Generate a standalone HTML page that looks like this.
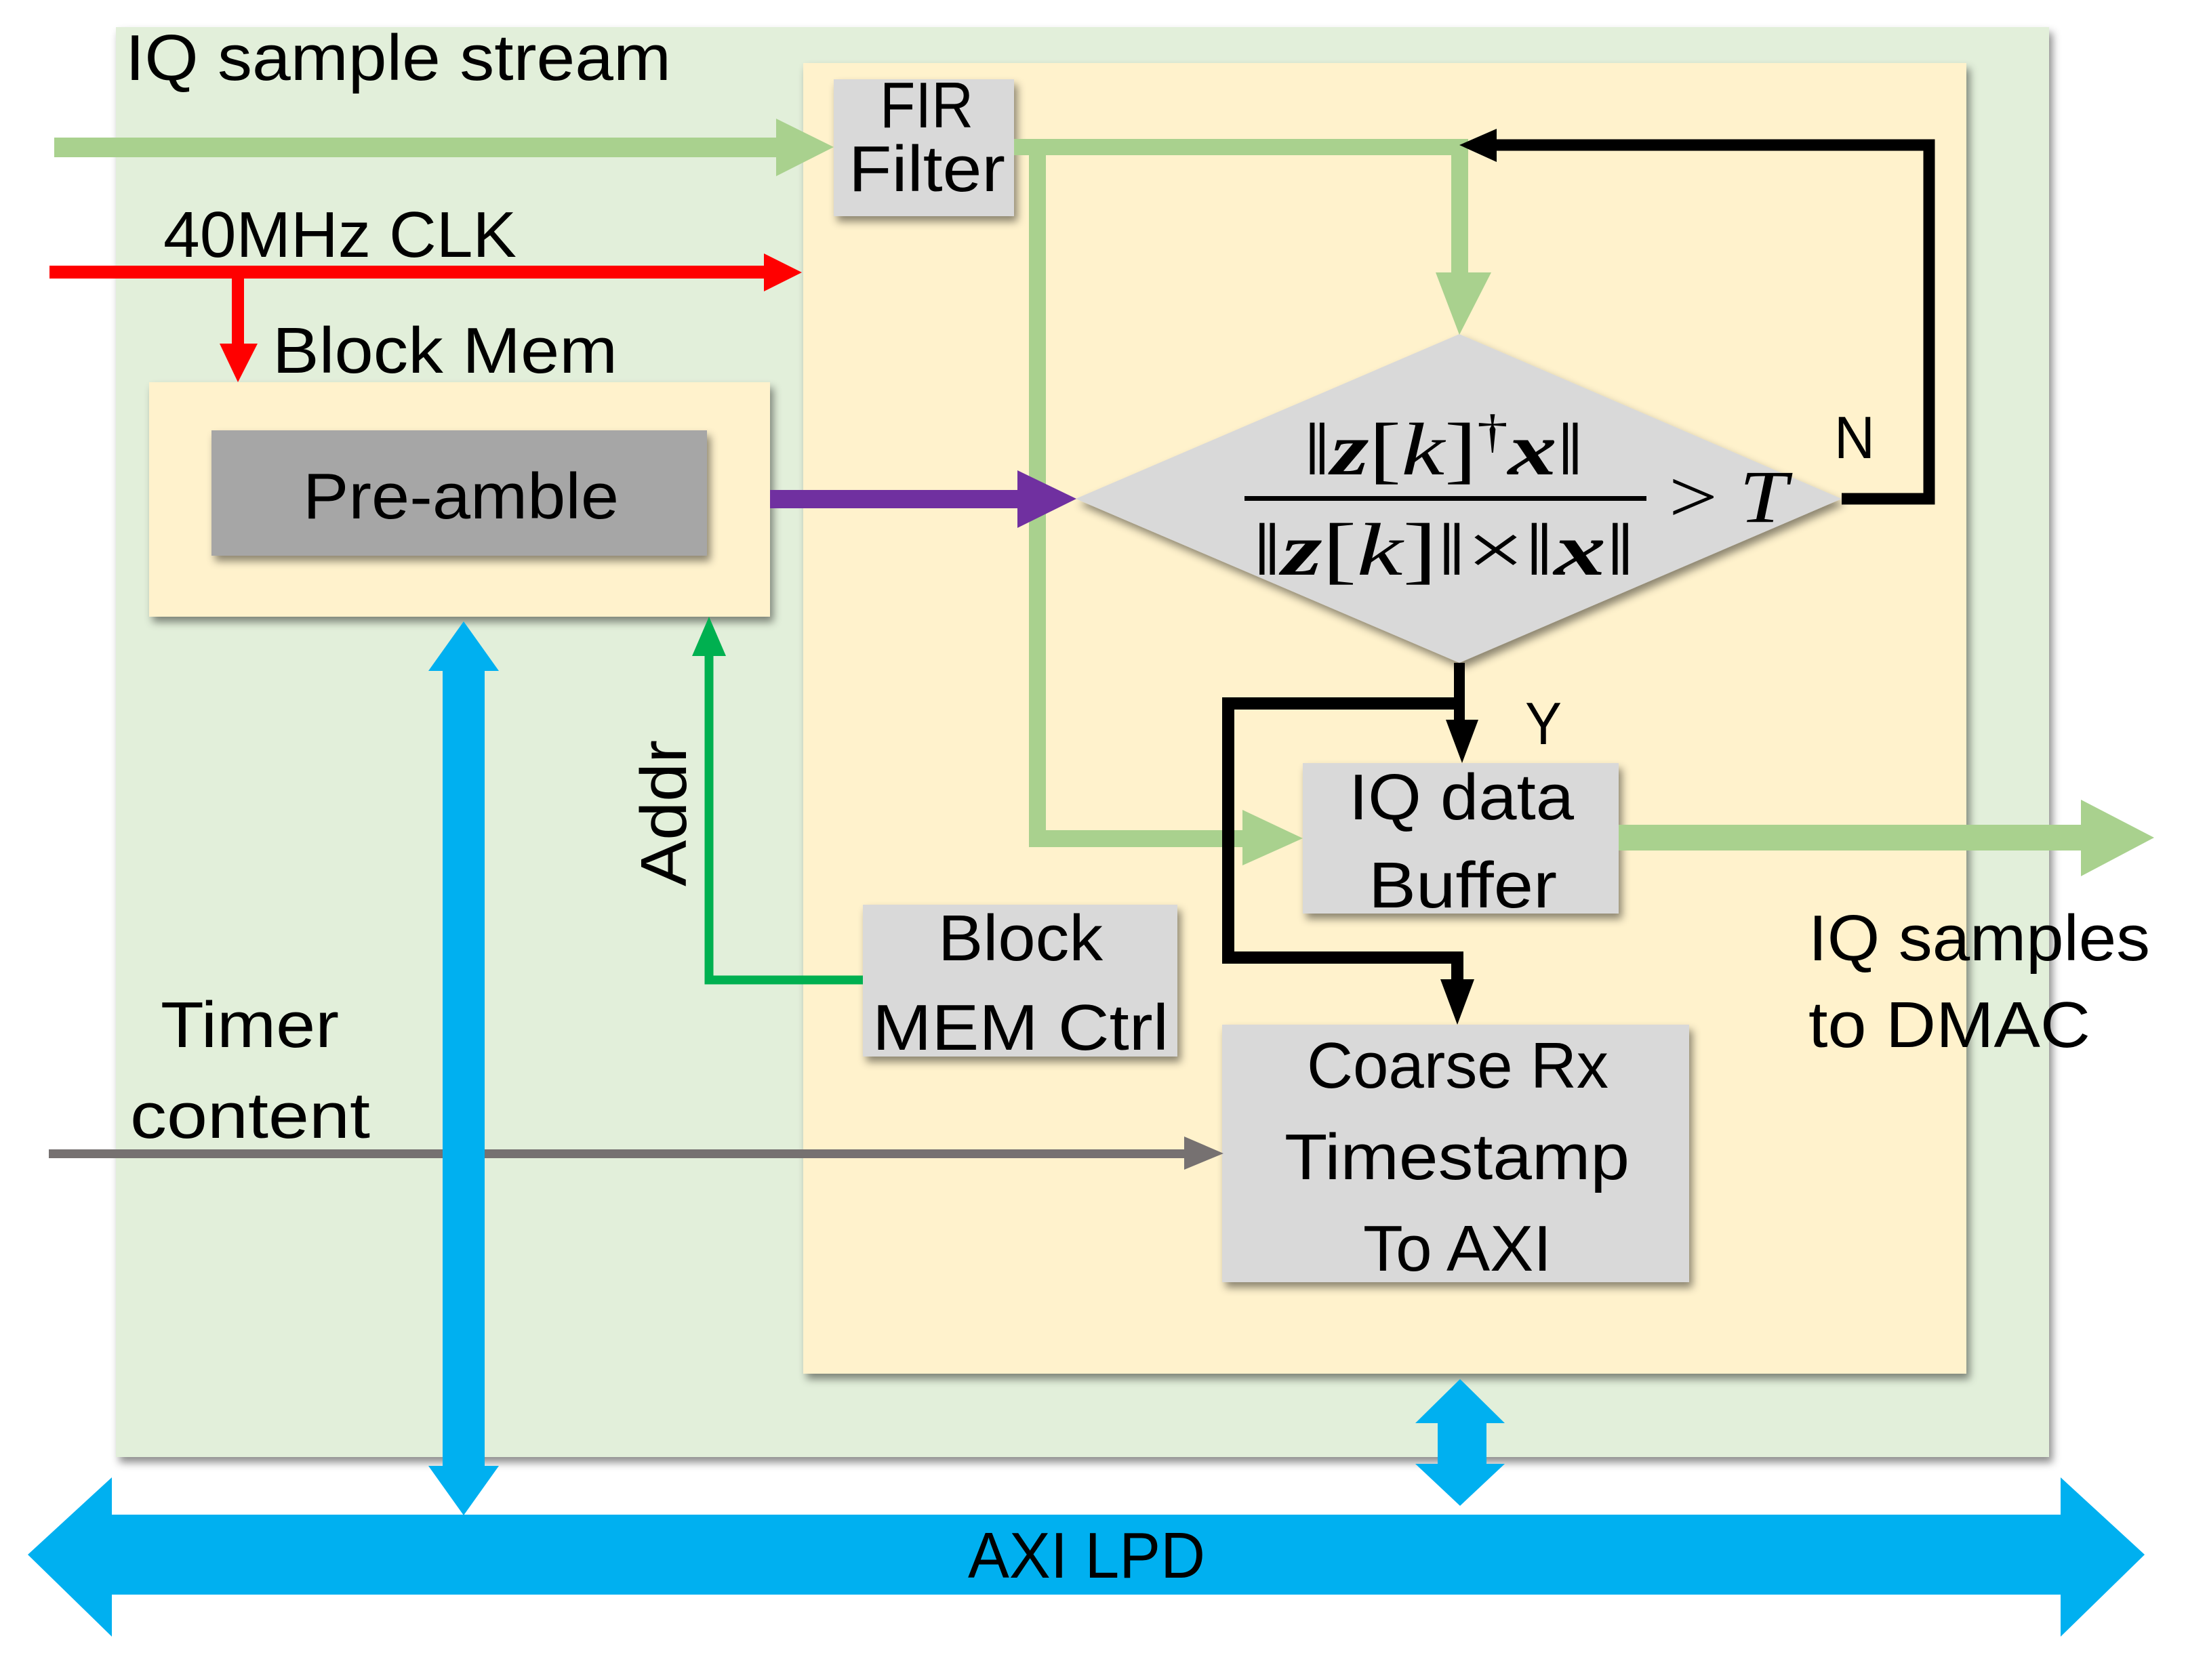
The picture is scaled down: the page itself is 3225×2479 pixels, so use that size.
<!DOCTYPE html>
<html><head><meta charset="utf-8"><style>html,body{margin:0;padding:0;background:#fff}svg{display:block}</style></head>
<body>
<svg width="3225" height="2479" viewBox="0 0 3225 2479" xmlns="http://www.w3.org/2000/svg" font-family="'Liberation Sans', sans-serif">
<defs>
<filter id="sh" x="-10%" y="-10%" width="130%" height="130%"><feDropShadow dx="5" dy="8" stdDeviation="6" flood-color="#000" flood-opacity="0.45"/></filter>
</defs>
<!-- outer green -->
<rect x="171" y="40" width="2852" height="2110" fill="#e2efda" filter="url(#sh)"/>
<!-- yellow -->
<rect x="1185" y="93" width="1716" height="1934" fill="#fff2cc" filter="url(#sh)"/>
<!-- block mem box -->
<rect x="220" y="564" width="916" height="346" fill="#fff2cc" filter="url(#sh)"/>
<rect x="312" y="635" width="731" height="185" fill="#a6a6a6" filter="url(#sh)"/>
<!-- boxes -->
<rect x="1230" y="117" width="266" height="202" fill="#d9d9d9" filter="url(#sh)"/>
<rect x="1922" y="1126" width="466" height="222" fill="#d9d9d9" filter="url(#sh)"/>
<rect x="1273" y="1335" width="464" height="224" fill="#d9d9d9" filter="url(#sh)"/>
<rect x="1803" y="1512" width="689" height="380" fill="#d9d9d9" filter="url(#sh)"/>
<!-- diamond -->
<polygon points="2153,493 2717,736 2153,978 1587,736" fill="#d9d9d9" filter="url(#sh)"/>

<!-- green input arrow -->
<rect x="80" y="203" width="1070" height="29" fill="#a9d18e"/>
<polygon points="1145,175 1230,217 1145,260" fill="#a9d18e"/>
<!-- green from FIR -->
<rect x="1496" y="205" width="670" height="24" fill="#a9d18e"/>
<rect x="1518" y="205" width="25" height="1045" fill="#a9d18e"/>
<rect x="2141" y="205" width="25" height="200" fill="#a9d18e"/>
<polygon points="2118,402 2200,402 2153,494" fill="#a9d18e"/>
<rect x="1518" y="1225" width="320" height="25" fill="#a9d18e"/>
<polygon points="1833,1195 1922,1237 1833,1277" fill="#a9d18e"/>
<!-- output green -->
<rect x="2388" y="1217" width="700" height="38" fill="#a9d18e"/>
<polygon points="3070,1180 3178,1236 3070,1293" fill="#a9d18e"/>

<!-- red -->
<rect x="73" y="392" width="1060" height="19" fill="#ff0000"/>
<polygon points="1127,374 1183,402 1127,430" fill="#ff0000"/>
<rect x="342" y="402" width="18" height="110" fill="#ff0000"/>
<polygon points="324,507 380,507 351,564" fill="#ff0000"/>

<!-- purple -->
<rect x="1136" y="723" width="370" height="27" fill="#7030a0"/>
<polygon points="1501,694 1588,736 1501,779" fill="#7030a0"/>

<!-- black N loop -->
<polyline points="2717,736 2846,736 2846,214 2200,214" fill="none" stroke="#000" stroke-width="17"/>
<polygon points="2208,190 2208,239 2153,214" fill="#000"/>
<!-- Y -->
<rect x="2145" y="978" width="16" height="90" fill="#000"/>
<polygon points="2133,1062 2181,1062 2157,1126" fill="#000"/>
<polyline points="2153,1038 1812,1038 1812,1413 2150,1413 2150,1450" fill="none" stroke="#000" stroke-width="18"/>
<polygon points="2125,1445 2175,1445 2150,1512" fill="#000"/>

<!-- green addr -->
<polyline points="1273,1446 1046,1446 1046,960" fill="none" stroke="#00b050" stroke-width="13"/>
<polygon points="1021,968 1071,968 1046,910" fill="#00b050"/>

<!-- gray timer -->
<rect x="72" y="1696" width="1680" height="13" fill="#767171"/>
<polygon points="1747,1677 1805,1702 1747,1726" fill="#767171"/>

<!-- blue vertical double arrow -->
<rect x="653" y="985" width="62" height="1185" fill="#00b0f0"/>
<polygon points="632,990 736,990 684,917" fill="#00b0f0"/>
<polygon points="632,2163 736,2163 684,2236" fill="#00b0f0"/>
<!-- small blue -->
<rect x="2121" y="2090" width="72" height="80" fill="#00b0f0"/>
<polygon points="2088,2100 2220,2100 2154,2035" fill="#00b0f0"/>
<polygon points="2088,2160 2220,2160 2154,2222" fill="#00b0f0"/>
<!-- AXI LPD -->
<polygon points="41,2294 165,2180 165,2235 3040,2235 3040,2180 3164,2294 3040,2415 3040,2353 165,2353 165,2415" fill="#00b0f0"/>

<!-- texts -->
<g fill="#000" font-size="96">
<text x="185" y="118" textLength="805" lengthAdjust="spacingAndGlyphs">IQ sample stream</text>
<text x="241" y="379" textLength="521" lengthAdjust="spacingAndGlyphs">40MHz CLK</text>
<text x="402" y="550" textLength="509" lengthAdjust="spacingAndGlyphs">Block Mem</text>
<text x="447" y="765" textLength="466" lengthAdjust="spacingAndGlyphs">Pre-amble</text>
<text x="1298" y="188" textLength="138" lengthAdjust="spacingAndGlyphs">FIR</text>
<text x="1252" y="282" textLength="231" lengthAdjust="spacingAndGlyphs">Filter</text>
<text x="1990" y="1209" textLength="332" lengthAdjust="spacingAndGlyphs">IQ data</text>
<text x="2019" y="1339" textLength="278" lengthAdjust="spacingAndGlyphs">Buffer</text>
<text x="1384" y="1417" textLength="243" lengthAdjust="spacingAndGlyphs">Block</text>
<text x="1287" y="1549" textLength="437" lengthAdjust="spacingAndGlyphs">MEM Ctrl</text>
<text x="1928" y="1605" textLength="445" lengthAdjust="spacingAndGlyphs">Coarse Rx</text>
<text x="1895" y="1740" textLength="509" lengthAdjust="spacingAndGlyphs">Timestamp</text>
<text x="2011" y="1875" textLength="278" lengthAdjust="spacingAndGlyphs">To AXI</text>
<text x="237" y="1545" textLength="263" lengthAdjust="spacingAndGlyphs">Timer</text>
<text x="192" y="1679" textLength="354" lengthAdjust="spacingAndGlyphs">content</text>
<text x="2668" y="1417" textLength="504" lengthAdjust="spacingAndGlyphs">IQ samples</text>
<text x="2668" y="1545" textLength="416" lengthAdjust="spacingAndGlyphs">to DMAC</text>
<text x="1428" y="2328" textLength="350" lengthAdjust="spacingAndGlyphs">AXI LPD</text>
<text x="2706" y="676" font-size="88" textLength="60" lengthAdjust="spacingAndGlyphs">N</text>
<text x="2250" y="1098" font-size="88" textLength="54" lengthAdjust="spacingAndGlyphs">Y</text>
<text transform="translate(1012,1308) rotate(-90)" textLength="216" lengthAdjust="spacingAndGlyphs">Addr</text>
</g>
<!-- formula -->
<g fill="#000" font-family="'Liberation Serif', serif" font-size="110">
<text x="1923" y="700" textLength="414" lengthAdjust="spacingAndGlyphs">‖<tspan font-weight="bold" font-style="italic">z</tspan>[<tspan font-style="italic">k</tspan>]<tspan font-size="70" dy="-40">†</tspan><tspan dy="40" font-weight="bold" font-style="italic">x</tspan>‖</text>
<rect x="1836" y="732" width="593" height="7"/>
<text x="1848" y="848" textLength="564" lengthAdjust="spacingAndGlyphs">‖<tspan font-weight="bold" font-style="italic">z</tspan>[<tspan font-style="italic">k</tspan>]‖×‖<tspan font-weight="bold" font-style="italic">x</tspan>‖</text>
<text x="2462" y="770" textLength="175" lengthAdjust="spacingAndGlyphs">&gt; <tspan font-style="italic">T</tspan></text>
</g>
</svg>
</body></html>
